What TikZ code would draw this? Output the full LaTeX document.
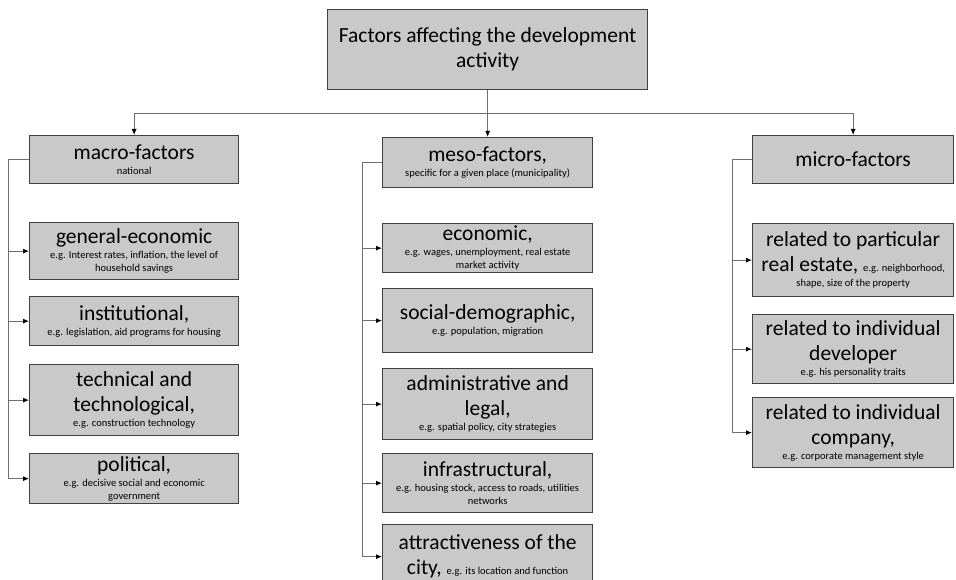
\documentclass[tikz,border=0pt]{standalone}
\usepackage{fontspec}
\setmainfont{Carlito}
\usepackage{xcolor}
\usetikzlibrary{arrows.meta}

\definecolor{boxfill}{HTML}{C9C9C9}
\definecolor{boxline}{HTML}{404040}
\definecolor{linkgray}{HTML}{6E6E6E}

\newcommand{\bigtxt}{\fontsize{21.5}{25}\selectfont}
\newcommand{\smtxt}{\fontsize{10.5}{13}\selectfont}

\tikzset{
  box/.style={draw=boxline, fill=boxfill, line width=1.3pt, align=center,
    inner sep=1pt, anchor=north west, font=\bigtxt},
  link/.style={draw=linkgray, line width=0.9pt},
  arr/.style={link, -{Latex[length=6pt,width=5pt,color=black]}}
}

\begin{document}
\begin{tikzpicture}[x=1pt,y=-1pt]
  \useasboundingbox (0,0) rectangle (956,580);
  \clip (0,0) rectangle (956,580);

  % Top box
  \node[box, minimum width=320pt, minimum height=80pt] (title) at (327,9)
    {Factors affecting the development\\activity};

  % Three groups
  \node[box, minimum width=209pt, minimum height=48pt] (macro) at (29,135)
    {macro-factors\\[-10pt]\smtxt national};
  \node[box, minimum width=210pt, minimum height=50pt] (meso) at (382,137)
    {meso-factors,\\[-10pt]\smtxt specific for a given place (municipality)};
  \node[box, minimum width=201pt, minimum height=48pt] (micro) at (752,135)
    {micro-factors};

  % Macro column
  \node[box, minimum width=209pt, minimum height=57pt] (gen) at (29,222)
    {general-economic\\[-10pt]\smtxt e.g. Interest rates, inflation, the level of\\[-12pt]\smtxt household savings};
  \node[box, minimum width=209pt, minimum height=49pt] (inst) at (29,296)
    {institutional,\\[-10pt]\smtxt e.g. legislation, aid programs for housing};
  \node[box, minimum width=209pt, minimum height=71pt] (tech) at (29,364)
    {technical and\\technological,\\[-10pt]\smtxt e.g. construction technology};
  \node[box, minimum width=209pt, minimum height=50pt] (pol) at (29,453)
    {political,\\[-10pt]\smtxt e.g. decisive social and economic\\[-12pt]\smtxt government};

  % Meso column
  \node[box, minimum width=210pt, minimum height=49pt] (econ) at (382,223)
    {economic,\\[-10pt]\smtxt e.g. wages, unemployment, real estate\\[-12pt]\smtxt market activity};
  \node[box, minimum width=210pt, minimum height=64pt] (soc) at (382,288)
    {social-demographic,\\[-10pt]\smtxt e.g. population, migration};
  \node[box, minimum width=210pt, minimum height=71pt] (adm) at (382,368)
    {administrative and\\legal,\\[-10pt]\smtxt e.g. spatial policy, city strategies};
  \node[box, minimum width=210pt, minimum height=59pt] (infra) at (382,453)
    {infrastructural,\\[-10pt]\smtxt e.g. housing stock, access to roads, utilities\\[-12pt]\smtxt networks};
  \node[box, minimum width=210pt, minimum height=64pt] (attr) at (382,524)
    {attractiveness of the\\city, {\smtxt e.g. its location and function}};

  % Micro column
  \node[box, minimum width=201pt, minimum height=73pt] (estate) at (752,223)
    {related to particular\\real estate, {\smtxt e.g. neighborhood,}\\[-10pt]\smtxt shape, size of the property};
  \node[box, minimum width=201pt, minimum height=69pt] (devel) at (752,314)
    {related to individual\\developer\\[-10pt]\smtxt e.g. his personality traits};
  \node[box, minimum width=201pt, minimum height=70pt] (comp) at (752,397)
    {related to individual\\company,\\[-10pt]\smtxt e.g. corporate management style};

  % Links from the top box
  \coordinate (split) at ([yshift=-23pt]title.south);
  \draw[arr] (title.south) -- (meso.north);
  \draw[arr] (split) -| (macro.north);
  \draw[arr] (split) -| (micro.north);

  % Side rails
  \coordinate (macrorail) at ([xshift=-21pt]macro.west);
  \coordinate (mesorail) at ([xshift=-20pt]meso.west);
  \coordinate (microrail) at ([xshift=-20pt]micro.west);
  \draw[link] (macro.west) -- (macrorail);
  \draw[link] (meso.west) -- (mesorail);
  \draw[link] (micro.west) -- (microrail);
  \foreach \n in {gen,inst,tech,pol}
    \draw[arr] (macrorail) |- (\n.west);
  \foreach \n in {econ,soc,adm,infra,attr}
    \draw[arr] (mesorail) |- (\n.west);
  \foreach \n in {estate,devel,comp}
    \draw[arr] (microrail) |- (\n.west);
\end{tikzpicture}
\end{document}
